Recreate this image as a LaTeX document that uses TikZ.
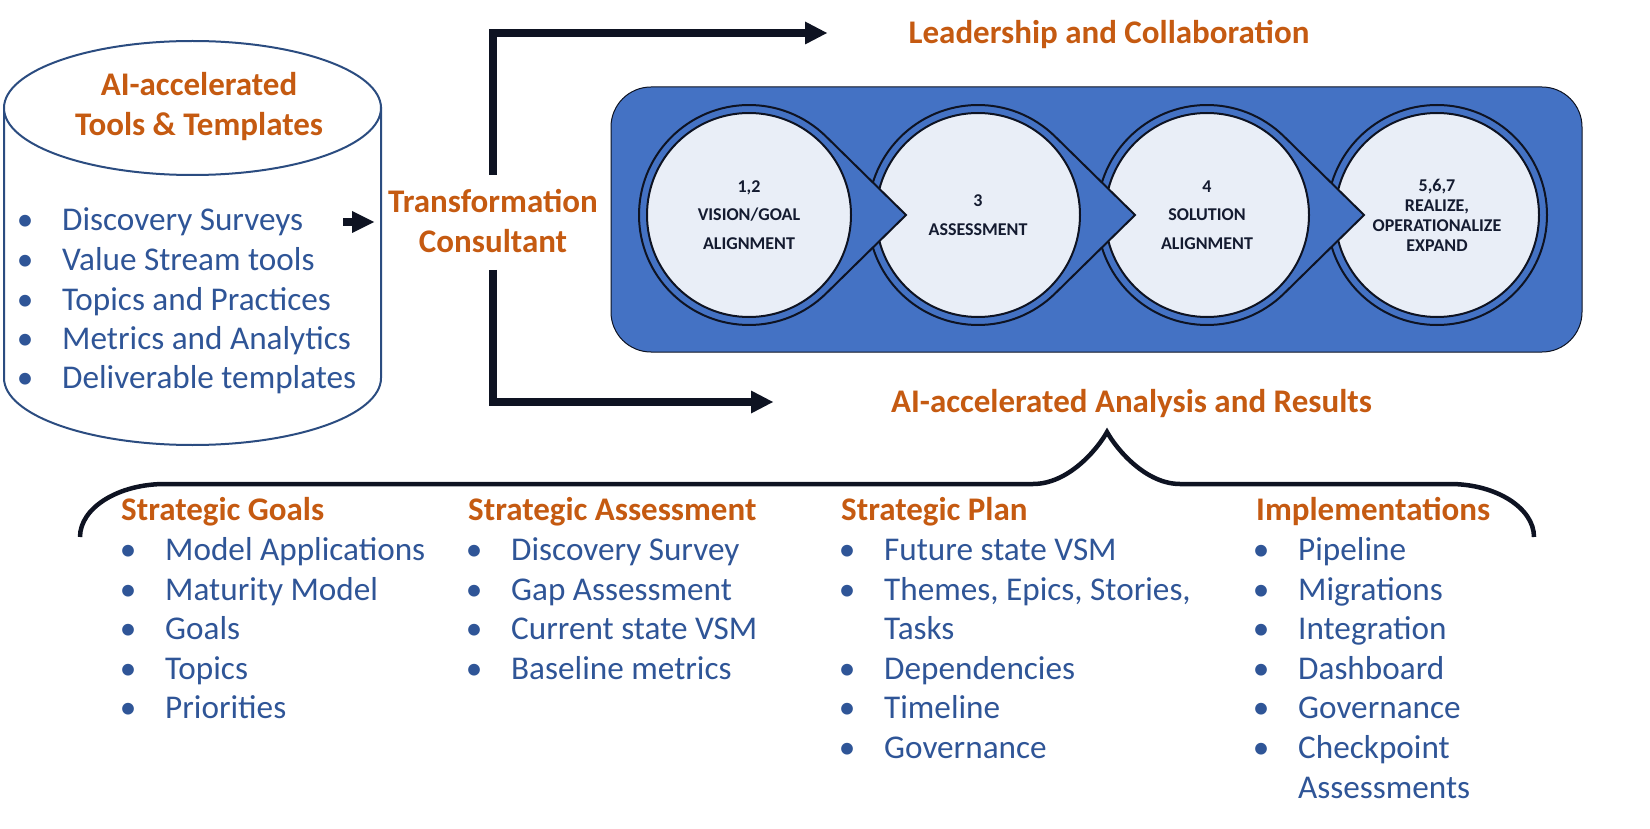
\documentclass[tikz,border=0pt]{standalone}
\usepackage{fontspec}
\setmainfont{Carlito}
\usetikzlibrary{arrows.meta}
\definecolor{orng}{HTML}{C55A11}
\definecolor{lblue}{HTML}{2F5597}
\definecolor{navy}{HTML}{0E1322}
\definecolor{bandblue}{HTML}{4472C4}
\definecolor{pale}{HTML}{E9EEF7}
\definecolor{ctext}{HTML}{141B30}
\definecolor{cylline}{HTML}{2B4C80}
\newcommand\ttlfont{\fontsize{33}{39.5}\selectfont\bfseries}
\newcommand\lstfont{\fontsize{33.2}{39.5}\selectfont}
\newcommand\crcfont{\fontsize{18}{28.5}\selectfont\bfseries}
\newcommand\bul{\makebox[12pt][c]{\textbullet}\hspace*{31pt}}
\newcommand\nobul{\hspace*{43pt}}
\newcommand\li[4]{\node[li] (#1) at (#2,#3) {\bul #4};}
\newcommand\lc[4]{\node[li] (#1) at (#2,#3) {\nobul #4};}
\begin{document}
\begin{tikzpicture}[x=1pt,y=-1pt,line join=miter,
  ttl/.style={font=\ttlfont, text=orng, inner sep=0pt},
  li/.style={anchor=base west, font=\lstfont, text=lblue, inner sep=0pt},
  bigarrow/.style={draw=navy, line width=8pt, -{Triangle[length=22pt,width=23pt,line width=0pt]}},
  smallarrow/.style={draw=navy, line width=8pt, -{Triangle[length=22pt,width=22pt,line width=0pt]}},
  brace/.style={draw=navy, line width=4.5pt},
  cyl/.style={draw=cylline, line width=2pt, fill=white},
  band/.style={draw=navy, line width=1pt, fill=bandblue, rounded corners=40pt, minimum width=971pt, minimum height=265pt, inner sep=0pt},
  ring/.style={draw=navy, line width=2pt, fill=bandblue},
  stage/.style={circle, draw=navy, line width=2pt, fill=pale, minimum size=204pt, inner sep=0pt, text=ctext, font=\crcfont, align=center}]
\useasboundingbox (0,0) rectangle (1650,829);

% cylinder
\draw[cyl] (4,108) -- (4,378) arc[start angle=180, end angle=360, x radius=188.5pt, y radius=67pt] -- (381,108) -- cycle;
\draw[cyl] (192.5,108) ellipse[x radius=188.5pt, y radius=67pt];
\node[ttl, align=center] (tools) at (199,106.5) {AI-accelerated\\Tools \& Templates};
\li{t1}{19}{230.5}{Discovery Surveys}
\li{t2}{19}{270.5}{Value Stream tools}
\li{t3}{19}{310}{Topics and Practices}
\li{t4}{19}{349}{Metrics and Analytics}
\li{t5}{19}{388.5}{Deliverable templates}

% consultant and arrows
\node[ttl, align=center] (tc) at (493,221) {Transformation\\Consultant};
\coordinate (s0) at (343,222);
\coordinate (s1) at (374,222);
\draw[smallarrow] (s0) -- (s1);
\coordinate (a0) at (493,175);
\coordinate (a1) at (827,33);
\draw[bigarrow] (a0) |- (a1);
\coordinate (b0) at (493,270);
\coordinate (b1) at (773,402);
\draw[bigarrow] (b0) |- (b1);
\node[ttl, anchor=base] (lead) at (1109,43.5) {Leadership and Collaboration};
\node[ttl, anchor=base] (res) at (1131.5,412) {AI-accelerated Analysis and Results};

% band of stages
\node[band] (band) at (1096.5,219.5) {};
\draw[ring] (1437,215) circle[radius=110pt];
\node[stage, font={\fontsize{18}{20}\selectfont\bfseries}] (s4) at (1437,215) {5,6,7\\REALIZE,\\OPERATIONALIZE\\EXPAND};
\draw[ring] (1207,215) ++(45.52:110pt) arc[start angle=45.52, end angle=314.48, radius=110pt] -- (1364,215) -- cycle;
\node[stage] (s3) at (1207,215) {4\\SOLUTION\\ALIGNMENT};
\draw[ring] (978,215) ++(45.52:110pt) arc[start angle=45.52, end angle=314.48, radius=110pt] -- (1135,215) -- cycle;
\node[stage] (s2) at (978,215) {3\\ASSESSMENT};
\draw[ring] (749,215) ++(45.52:110pt) arc[start angle=45.52, end angle=314.48, radius=110pt] -- (906,215) -- cycle;
\node[stage] (s1) at (749,215) {1,2\\VISION/GOAL\\ALIGNMENT};

% brace
\draw[brace] (80,537) .. controls (80,508) and (118,484) .. (165,484) -- (1033,484)
  .. controls (1068,484) and (1097,450) .. (1107,432)
  .. controls (1117,450) and (1146,484) .. (1180,484) -- (1450,484)
  .. controls (1496,484) and (1534,508) .. (1534,537);

% columns
\node[ttl, anchor=base west] (h1) at (121,520.5) {Strategic Goals};
\li{g1}{122}{560.5}{Model Applications}
\li{g2}{122}{600}{Maturity Model}
\li{g3}{122}{639.5}{Goals}
\li{g4}{122}{679.5}{Topics}
\li{g5}{122}{718.5}{Priorities}

\node[ttl, anchor=base west] (h2) at (468,520.5) {Strategic Assessment};
\li{a1}{468}{560.5}{Discovery Survey}
\li{a2}{468}{600}{Gap Assessment}
\li{a3}{468}{639.5}{Current state VSM}
\li{a4}{468}{679.5}{Baseline metrics}

\node[ttl, anchor=base west] (h3) at (841,520.5) {Strategic Plan};
\li{p1}{841}{560.5}{Future state VSM}
\li{p2}{841}{600}{Themes, Epics, Stories,}
\lc{p2b}{841}{639.5}{Tasks}
\li{p3}{841}{679.5}{Dependencies}
\li{p4}{841}{718.5}{Timeline}
\li{p5}{841}{758.5}{Governance}

\node[ttl, anchor=base west] (h4) at (1256,520.5) {Implementations};
\li{m1}{1255}{560.5}{Pipeline}
\li{m2}{1255}{600}{Migrations}
\li{m3}{1255}{639.5}{Integration}
\li{m4}{1255}{679.5}{Dashboard}
\li{m5}{1255}{718.5}{Governance}
\li{m6}{1255}{758.5}{Checkpoint}
\lc{m6b}{1255}{798}{Assessments}
\end{tikzpicture}
\end{document}
